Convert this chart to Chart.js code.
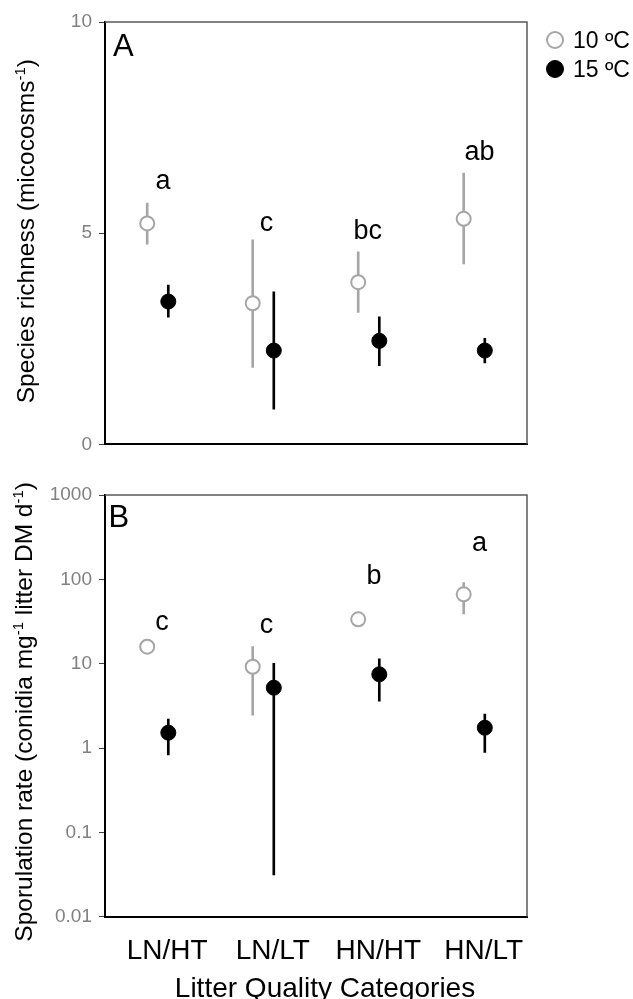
<!DOCTYPE html>
<html><head><meta charset="utf-8">
<script src="https://cdn.jsdelivr.net/npm/chart.js@4.4.1/dist/chart.umd.min.js"></script>
<style>
html,body{margin:0;padding:0;background:#fff;overflow:hidden;width:633px;height:999px}
#wrap{position:relative;width:633px;height:999px;overflow:hidden}
canvas{position:absolute;left:0}
#cA{top:0}
#cB{top:470px}
</style></head><body>
<div id="wrap"><canvas id="cA" width="633" height="470"></canvas><canvas id="cB" width="633" height="540"></canvas></div>
<script>
// ---------- data ----------
const categories = ['LN/HT', 'LN/LT', 'HN/HT', 'HN/LT'];
const seriesNames = ['10 ºC', '15 ºC'];

// Panel A: species richness (micocosms-1), mean and error-bar ends
const richness10     = [5.23, 3.34, 3.84, 5.34];
const richness10Low  = [4.74, 1.82, 3.12, 4.27];
const richness10High = [5.71, 4.84, 4.56, 6.42];
const richness15     = [3.38, 2.22, 2.45, 2.22];
const richness15Low  = [3.01, 0.83, 1.86, 1.93];
const richness15High = [3.77, 3.61, 3.02, 2.51];
const richnessLetters  = ['a', 'c', 'bc', 'ab'];
const richnessLetterX  = [1.05, 2.03, 2.99, 4.05];
const richnessLetterAt = [6.04, 5.06, 4.86, 6.73];
const richnessTicks = [0, 5, 10];

// Panel B: sporulation rate (conidia mg-1 litter DM d-1), log scale
const sporulation10     = [15.9, 9.2, 33.6, 66.4];
const sporulation10Low  = [14.9, 2.46, 31.8, 38.8];
const sporulation10High = [16.9, 15.9, 35.4, 91.3];
const sporulation15     = [1.52, 5.19, 7.48, 1.74];
const sporulation15Low  = [0.826, 0.0312, 3.6, 0.889];
const sporulation15High = [2.21, 10.1, 11.4, 2.53];
const sporulationLetters  = ['c', 'c', 'b', 'a'];
const sporulationLetterX  = [1.04, 2.03, 3.05, 4.05];
const sporulationLetterAt = [25.1, 22.9, 87.3, 217];
const sporulationTicks = [0.01, 0.1, 1, 10, 100, 1000];
const sporulationTickLabels = ['0.01', '0.1', '1', '10', '100', '1000'];

// ---------- styling ----------
const FONT = '"Liberation Sans", Arial, Helvetica, sans-serif';
Chart.defaults.font.family = FONT;
const GRAY = '#a6a6a6';
const DODGE = 0.1;
const LABEL_SHIFT = 0.09;

function makeDatasets(v10, lo10, hi10, v15, lo15, hi15) {
  const x10 = i => i + 1 - DODGE, x15 = i => i + 1 + DODGE;
  return [
    { type: 'bar', label: 'err10', data: v10.map((v, i) => ({ x: x10(i), y: [lo10[i], hi10[i]] })),
      backgroundColor: GRAY, barThickness: 2, grouped: false, borderWidth: 0, order: 4 },
    { type: 'bar', label: 'err15', data: v15.map((v, i) => ({ x: x15(i), y: [lo15[i], hi15[i]] })),
      backgroundColor: '#000', barThickness: 2, grouped: false, borderWidth: 0, order: 3 },
    { type: 'scatter', label: seriesNames[0], data: v10.map((v, i) => ({ x: x10(i), y: v })),
      pointRadius: 7, borderWidth: 2, borderColor: GRAY, backgroundColor: '#fff', order: 2 },
    { type: 'scatter', label: seriesNames[1], data: v15.map((v, i) => ({ x: x15(i), y: v })),
      pointRadius: 7.5, borderWidth: 1, borderColor: '#000', backgroundColor: '#000', order: 1 }
  ];
}

function drawRich(ctx, parts, cx, baseX, size) {
  // rotated (bottom-to-top) text with superscripts, centred on cx (vertical page coordinate)
  const supSize = Math.round(size * 0.62);
  let total = 0;
  const widths = parts.map(p => {
    ctx.font = (p.sup ? supSize : size) + 'px ' + FONT;
    const w = ctx.measureText(p.t).width; total += w; return w;
  });
  ctx.save();
  ctx.translate(baseX, cx);
  ctx.rotate(-Math.PI / 2);
  ctx.fillStyle = '#000';
  ctx.textAlign = 'left';
  ctx.textBaseline = 'alphabetic';
  let x = -total / 2;
  parts.forEach((p, i) => {
    ctx.font = (p.sup ? supSize : size) + 'px ' + FONT;
    ctx.fillText(p.t, x, p.sup ? -size * 0.36 : 0);
    x += widths[i];
  });
  ctx.restore();
}

const decor = {
  id: 'decor',
  afterDraw(chart, args, o) {
    const { ctx, chartArea: a } = chart;
    const xs = chart.scales.x, ys = chart.scales.y;
    ctx.save();
    // top / right frame
    ctx.strokeStyle = '#595959';
    ctx.lineWidth = 1.5;
    ctx.beginPath();
    ctx.moveTo(a.left, a.top); ctx.lineTo(a.right, a.top); ctx.lineTo(a.right, a.bottom);
    ctx.stroke();
    // panel letter
    ctx.fillStyle = '#000';
    ctx.font = '31px ' + FONT;
    ctx.textAlign = 'left';
    ctx.textBaseline = 'alphabetic';
    ctx.fillText(o.panel, o.panelX, a.top + o.panelBase);
    // significance letters
    ctx.font = '27px ' + FONT;
    ctx.textAlign = 'center';
    o.letters.forEach((t, i) => {
      ctx.fillText(t, xs.getPixelForValue(o.letterX[i]), ys.getPixelForValue(o.letterAt[i]));
    });
    ctx.restore();
    // y title
    drawRich(ctx, o.yTitle, (a.top + a.bottom) / 2 + o.yTitleShift, o.yTitleX, 24.5);
    // legend
    if (o.legend) {
      ctx.save();
      [2, 3].forEach((di, k) => {
        const ds = chart.data.datasets[di];
        const cy = 40 + k * 29;
        ctx.beginPath();
        ctx.arc(555, cy, di === 2 ? 8 : 8.5, 0, Math.PI * 2);
        ctx.fillStyle = ds.backgroundColor;
        ctx.fill();
        ctx.lineWidth = ds.borderWidth;
        ctx.strokeStyle = ds.borderColor;
        ctx.stroke();
        ctx.fillStyle = '#000';
        ctx.font = '23px ' + FONT;
        ctx.textAlign = 'left';
        ctx.textBaseline = 'alphabetic';
        ctx.fillText(ds.label, 573, cy + 8);
      });
      ctx.restore();
    }
    // x title
    if (o.xTitle) {
      ctx.save();
      ctx.fillStyle = '#000';
      ctx.font = '28px ' + FONT;
      ctx.textAlign = 'center';
      ctx.textBaseline = 'alphabetic';
      ctx.fillText(o.xTitle, 325, a.bottom + 80);
      ctx.restore();
    }
  }
};

const tickFont = { family: FONT, size: 19 };

// ---------- Panel A ----------
new Chart(document.getElementById('cA'), {
  type: 'scatter',
  data: { datasets: makeDatasets(richness10, richness10Low, richness10High, richness15, richness15Low, richness15High) },
  options: {
    responsive: false, animation: false, events: [],
    layout: { padding: { top: 22, right: 106, left: 0, bottom: 0 } },
    plugins: {
      legend: { display: false }, tooltip: { enabled: false },
      decor: {
        panel: 'A', panelX: 113, panelBase: 34,
        letters: richnessLetters, letterX: richnessLetterX, letterAt: richnessLetterAt,
        yTitle: [{ t: 'Species richness (micocosms' }, { t: '-1', sup: true }, { t: ')' }],
        yTitleX: 34, yTitleShift: -2, legend: true
      }
    },
    scales: {
      x: {
        type: 'linear', min: 0.5, max: 4.5, offset: false,
        grid: { display: false, drawTicks: false },
        border: { display: true, color: '#000', width: 2 },
        ticks: { display: false },
        afterFit: s => { s.height = 470 - 444.3; }
      },
      y: {
        type: 'linear', min: 0, max: 10, beginAtZero: false,
        afterBuildTicks: s => { s.ticks = richnessTicks.map(v => ({ value: v })); },
        grid: { drawOnChartArea: false, drawTicks: true, tickLength: 6, color: '#404040', lineWidth: 1 },
        border: { display: true, color: '#000', width: 2 },
        ticks: { color: '#808080', font: tickFont, padding: 7 },
        afterFit: s => { s.width = 105; }
      }
    }
  },
  plugins: [decor]
});

// ---------- Panel B ----------
new Chart(document.getElementById('cB'), {
  type: 'scatter',
  data: { datasets: makeDatasets(sporulation10, sporulation10Low, sporulation10High, sporulation15, sporulation15Low, sporulation15High) },
  options: {
    responsive: false, animation: false, events: [],
    layout: { padding: { top: 25, right: 106, left: 0, bottom: 0 } },
    plugins: {
      legend: { display: false }, tooltip: { enabled: false },
      decor: {
        panel: 'B', panelX: 108.5, panelBase: 32.3,
        letters: sporulationLetters, letterX: sporulationLetterX, letterAt: sporulationLetterAt,
        yTitle: [{ t: 'Sporulation rate (conidia mg' }, { t: '-1', sup: true }, { t: ' litter DM d' }, { t: '-1', sup: true }, { t: ')' }],
        yTitleX: 32, yTitleShift: 6, legend: false,
        xTitle: 'Litter Quality Categories'
      }
    },
    scales: {
      x: {
        type: 'linear', min: 0.5, max: 4.5, offset: false,
        afterBuildTicks: s => { s.ticks = categories.map((c, i) => ({ value: i + 1 + LABEL_SHIFT })); },
        grid: { display: false, drawTicks: false },
        border: { display: true, color: '#000', width: 2 },
        ticks: { color: '#000', font: { family: FONT, size: 28 }, padding: 18, maxRotation: 0, autoSkip: false,
                 callback: (v, i) => categories[i] },
        afterFit: s => { s.height = 540 - 446.7; }
      },
      y: {
        type: 'logarithmic', min: 0.01, max: 1000, beginAtZero: false,
        afterBuildTicks: s => { s.ticks = sporulationTicks.map(v => ({ value: v, major: true })); },
        grid: { drawOnChartArea: false, drawTicks: true, tickLength: 6, color: '#404040', lineWidth: 1 },
        border: { display: true, color: '#000', width: 2 },
        ticks: { color: '#808080', font: tickFont, padding: 7, autoSkip: false,
                 callback: (v, i) => sporulationTickLabels[i] },
        afterFit: s => { s.width = 105; }
      }
    }
  },
  plugins: [decor]
});
</script>
</body></html>
